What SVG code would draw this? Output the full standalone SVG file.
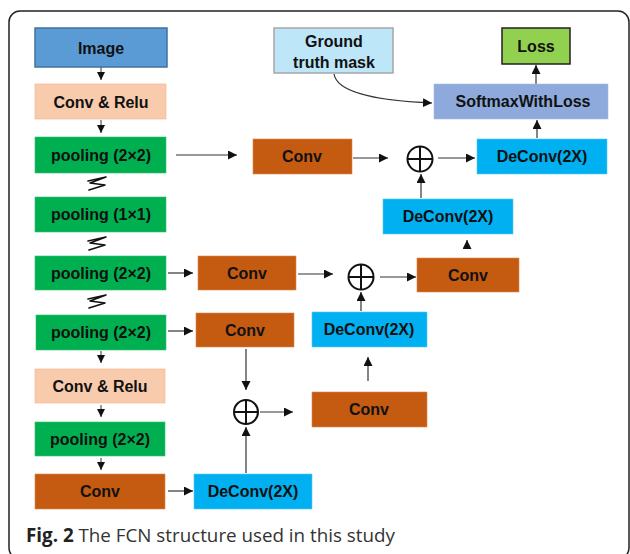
<svg xmlns="http://www.w3.org/2000/svg" width="630" height="554" viewBox="0 0 630 554">
<style>
.lbl{font-family:"Liberation Sans",Arial,sans-serif;font-weight:bold;font-size:16px;fill:#111;text-anchor:middle}
.img{fill:#5B9BD5;stroke:#41719C;stroke-width:1.5}
.cr{fill:#F8CBAD;stroke:#F4B183;stroke-width:0.6}
.pool{fill:#00B050;stroke:#33C070;stroke-width:0.6}
.conv{fill:#C55A11;stroke:#D9874F;stroke-width:0.6}
.dc{fill:#00B0F0;stroke:#5BC8F0;stroke-width:0.6}
.sm{fill:#8EA9DB;stroke:#A9BEE3;stroke-width:0.6}
.loss{fill:#92D050;stroke:#222;stroke-width:1.5}
.gt{fill:#BDE6F8;stroke:#A6A6A6;stroke-width:1.5}
.sum{fill:#fff;stroke:#111;stroke-width:2}
.c{fill:none;stroke:#333;stroke-width:1.2}
.cs{fill:none;stroke:#333;stroke-width:1}
.sq{fill:none;stroke:#111;stroke-width:1.6;stroke-linejoin:round;stroke-linecap:round}
</style>
<defs>
<marker id="ah" markerUnits="userSpaceOnUse" markerWidth="10" markerHeight="10" refX="9" refY="4.5" orient="auto">
<path d="M0,0 L9,4.5 L0,9 Z" fill="#111"/>
</marker>
<marker id="ahs" markerUnits="userSpaceOnUse" markerWidth="9" markerHeight="9" refX="8" refY="4" orient="auto">
<path d="M0,0 L8,4 L0,8 Z" fill="#111"/>
</marker>
</defs>
<rect x="9" y="11" width="620" height="548" rx="11" fill="none" stroke="#222" stroke-width="1.5"/>

<g id="connectors">
<path class="cs" d="M101,67 V80" marker-end="url(#ahs)"/>
<path class="cs" d="M101,120 V133" marker-end="url(#ahs)"/>
<path class="c" d="M176,155 H237" marker-end="url(#ah)"/>
<path class="c" d="M353,158 H388" marker-end="url(#ah)"/>
<path class="c" d="M438,158 H475" marker-end="url(#ah)"/>
<path class="c" d="M421,198 V174" marker-end="url(#ah)"/>
<path class="c" d="M537,138 V120" marker-end="url(#ah)"/>
<path class="c" d="M536,84 V65" marker-end="url(#ah)"/>
<path class="c" d="M334,74 C337,93 380,101 432,103" marker-end="url(#ah)"/>
<path class="c" d="M168,273 H193" marker-end="url(#ah)"/>
<path class="c" d="M298,274 H333" marker-end="url(#ah)"/>
<path class="c" d="M380,277 H416" marker-end="url(#ah)"/>
<path class="c" d="M467,249 V240" marker-end="url(#ah)"/>
<path class="c" d="M361,311 V292" marker-end="url(#ah)"/>
<path class="c" d="M168,331 H193" marker-end="url(#ah)"/>
<path class="cs" d="M101,351 V363" marker-end="url(#ahs)"/>
<path class="cs" d="M101,405 V417" marker-end="url(#ahs)"/>
<path class="cs" d="M101,458 V470" marker-end="url(#ahs)"/>
<path class="c" d="M246,349 V390" marker-end="url(#ah)"/>
<path class="c" d="M246,473 V427" marker-end="url(#ah)"/>
<path class="c" d="M260,412 H293" marker-end="url(#ah)"/>
<path class="c" d="M368,381 V357" marker-end="url(#ah)"/>
<path class="c" d="M168,491 H193" marker-end="url(#ah)"/>
<path class="sq" d="M88,181 L106,177 L90,183 L105,185 L89,190"/>
<path class="sq" d="M88,241 L106,237 L90,243 L105,245 L89,250"/>
<path class="sq" d="M88,299 L106,295 L90,301 L105,303 L89,308"/>
</g>

<g id="image"><rect class="img" x="35" y="28" width="132" height="39"/><text class="lbl" x="101" y="54">Image</text></g>
<g id="convrelu1"><rect class="cr" x="35" y="84" width="131" height="35"/><text class="lbl" x="101" y="108">Conv &amp; Relu</text></g>
<g id="pool1"><rect class="pool" x="35" y="137" width="131" height="36"/><text class="lbl" x="101" y="161">pooling (2×2)</text></g>
<g id="pool2"><rect class="pool" x="35" y="197" width="131" height="35"/><text class="lbl" x="101" y="220">pooling (1×1)</text></g>
<g id="pool3"><rect class="pool" x="35" y="256" width="131" height="34"/><text class="lbl" x="101" y="279">pooling (2×2)</text></g>
<g id="pool4"><rect class="pool" x="36" y="315" width="130" height="35"/><text class="lbl" x="101" y="338">pooling (2×2)</text></g>
<g id="convrelu2"><rect class="cr" x="35" y="369" width="130" height="34"/><text class="lbl" x="100" y="392">Conv &amp; Relu</text></g>
<g id="pool5"><rect class="pool" x="35" y="422" width="130" height="34"/><text class="lbl" x="100" y="445">pooling (2×2)</text></g>
<g id="conv7"><rect class="conv" x="35" y="474" width="130" height="35"/><text class="lbl" x="100" y="497">Conv</text></g>
<g id="deconvB"><rect class="dc" x="194" y="474" width="118" height="35"/><text class="lbl" x="253" y="497">DeConv(2X)</text></g>
<g id="conv4"><rect class="conv" x="196" y="313" width="98" height="34"/><text class="lbl" x="245" y="336">Conv</text></g>
<g id="sumC"><circle class="sum" cx="246" cy="412" r="12"/><path d="M234,412 H258 M246,400 V424" stroke="#111" stroke-width="2"/></g>
<g id="convC"><rect class="conv" x="312" y="392" width="115" height="35"/><text class="lbl" x="369" y="415">Conv</text></g>
<g id="deconvM"><rect class="dc" x="312" y="312" width="115" height="35"/><text class="lbl" x="369" y="335">DeConv(2X)</text></g>
<g id="conv3"><rect class="conv" x="198" y="256" width="98" height="34"/><text class="lbl" x="247" y="279">Conv</text></g>
<g id="sumB"><circle class="sum" cx="361" cy="277" r="12.5"/><path d="M348.5,277 H373.5 M361,264.5 V289.5" stroke="#111" stroke-width="2"/></g>
<g id="convB"><rect class="conv" x="417" y="258" width="102" height="34"/><text class="lbl" x="468" y="281">Conv</text></g>
<g id="deconvU"><rect class="dc" x="383" y="199" width="130" height="35"/><text class="lbl" x="448" y="222">DeConv(2X)</text></g>
<g id="conv1"><rect class="conv" x="253" y="139" width="99" height="35"/><text class="lbl" x="302" y="162">Conv</text></g>
<g id="sumA"><circle class="sum" cx="420" cy="159" r="12.5"/><path d="M407.5,159 H432.5 M420,146.5 V171.5" stroke="#111" stroke-width="2"/></g>
<g id="deconvT"><rect class="dc" x="477" y="139" width="130" height="35"/><text class="lbl" x="542" y="162">DeConv(2X)</text></g>
<g id="softmax"><rect class="sm" x="434" y="84" width="174" height="35"/><text class="lbl" x="523" y="107">SoftmaxWithLoss</text></g>
<g id="loss"><rect class="loss" x="502" y="28" width="68" height="36"/><text class="lbl" x="536" y="52">Loss</text></g>
<g id="gt"><rect class="gt" x="274" y="28" width="119" height="45"/><text class="lbl" x="334" y="47">Ground</text><text class="lbl" x="334" y="68">truth mask</text></g>

<text x="26" y="542" font-family="'Open Sans','Noto Sans',sans-serif" font-size="18.8" fill="#333"><tspan font-weight="bold" fill="#222">Fig. 2</tspan> The FCN structure used in this study</text>
</svg>
